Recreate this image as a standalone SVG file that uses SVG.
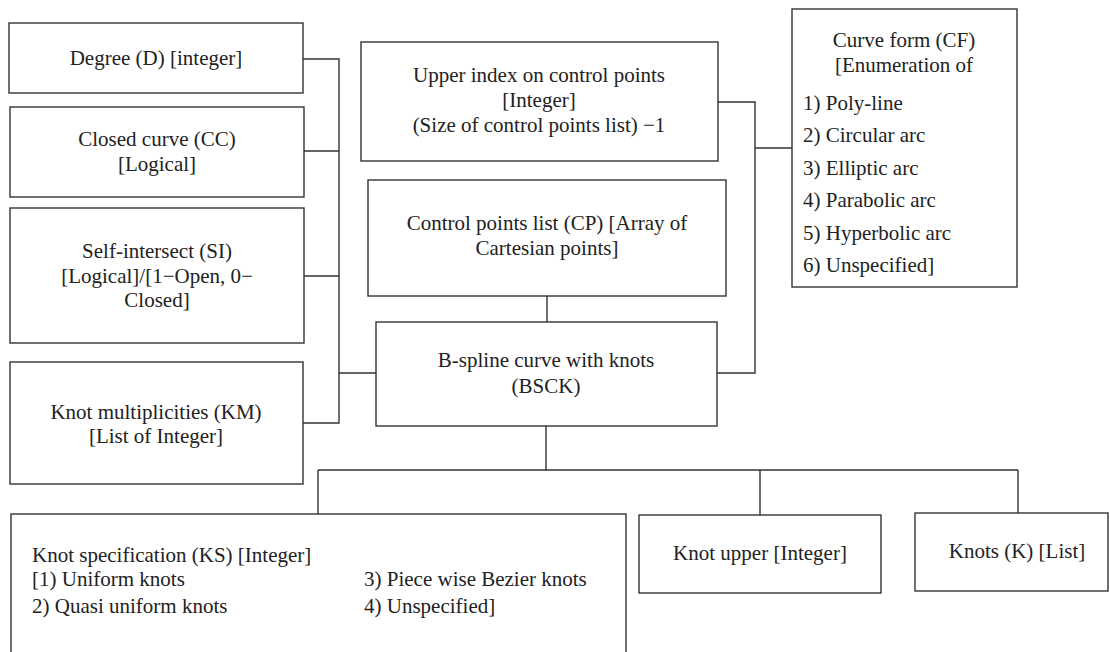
<svg xmlns="http://www.w3.org/2000/svg" width="1110" height="652" viewBox="0 0 1110 652">
<style>
.box{fill:#fff;stroke:#333;stroke-width:1.4}
.t{font-family:"Liberation Serif","Times New Roman",serif;font-size:21px;fill:#222}
.c{text-anchor:middle}
.ln{fill:none;stroke:#333;stroke-width:1.4}
</style>
<rect width="1110" height="652" fill="#fff"/>
<g id="connectors">
<path class="ln" d="M303 59H339V423H303M304 151H339M304 276H339M339 373H376"/>
<path class="ln" d="M718 102H755V373H717M755 148H792"/>
<path class="ln" d="M547 296V322"/>
<path class="ln" d="M546 426V470M318 470H1018M318 470V514M760 470V515M1018 470V513"/>
</g>
<g id="degree"><rect class="box" x="9" y="23" width="294" height="70"/><text class="t c" x="156" y="65">Degree (D) [integer]</text></g>
<g id="closed"><rect class="box" x="10" y="107" width="294" height="90"/><text class="t c" x="157" y="146">Closed curve (CC)</text><text class="t c" x="157" y="171">[Logical]</text></g>
<g id="self"><rect class="box" x="10" y="208" width="294" height="135"/><text class="t c" x="157" y="258">Self-intersect (SI)</text><text class="t c" x="157" y="283">[Logical]/[1−Open, 0−</text><text class="t c" x="157" y="307">Closed]</text></g>
<g id="km"><rect class="box" x="10" y="362" width="293" height="122"/><text class="t c" x="156" y="419">Knot multiplicities (KM)</text><text class="t c" x="156" y="443">[List of Integer]</text></g>
<g id="upper"><rect class="box" x="361" y="42" width="357" height="119"/><text class="t c" x="539" y="82">Upper index on control points</text><text class="t c" x="539" y="107">[Integer]</text><text class="t c" x="539" y="132">(Size of control points list) −1</text></g>
<g id="cp"><rect class="box" x="368" y="180" width="358" height="116"/><text class="t c" x="547" y="230">Control points list (CP) [Array of</text><text class="t c" x="547" y="255">Cartesian points]</text></g>
<g id="bsck"><rect class="box" x="376" y="322" width="341" height="104"/><text class="t c" x="546" y="367">B-spline curve with knots</text><text class="t c" x="546" y="393">(BSCK)</text></g>
<g id="cf"><rect class="box" x="792" y="9" width="225" height="278"/><text class="t c" x="904" y="47">Curve form (CF)</text><text class="t c" x="904" y="72">[Enumeration of</text>
<text class="t" x="803" y="110">1) Poly-line</text><text class="t" x="803" y="142">2) Circular arc</text><text class="t" x="803" y="175">3) Elliptic arc</text><text class="t" x="803" y="207">4) Parabolic arc</text><text class="t" x="803" y="240">5) Hyperbolic arc</text><text class="t" x="803" y="272">6) Unspecified]</text></g>
<g id="ks"><rect class="box" x="11" y="514" width="615" height="150"/><text class="t" x="32" y="562">Knot specification (KS) [Integer]</text><text class="t" x="32" y="586">[1) Uniform knots</text><text class="t" x="32" y="613">2) Quasi uniform knots</text><text class="t" x="364" y="586">3) Piece wise Bezier knots</text><text class="t" x="364" y="613">4) Unspecified]</text></g>
<g id="knotupper"><rect class="box" x="639" y="515" width="242" height="78"/><text class="t c" x="760" y="560">Knot upper [Integer]</text></g>
<g id="knots"><rect class="box" x="915" y="513" width="193" height="78"/><text class="t c" x="1017" y="558">Knots (K) [List]</text></g>
</svg>
